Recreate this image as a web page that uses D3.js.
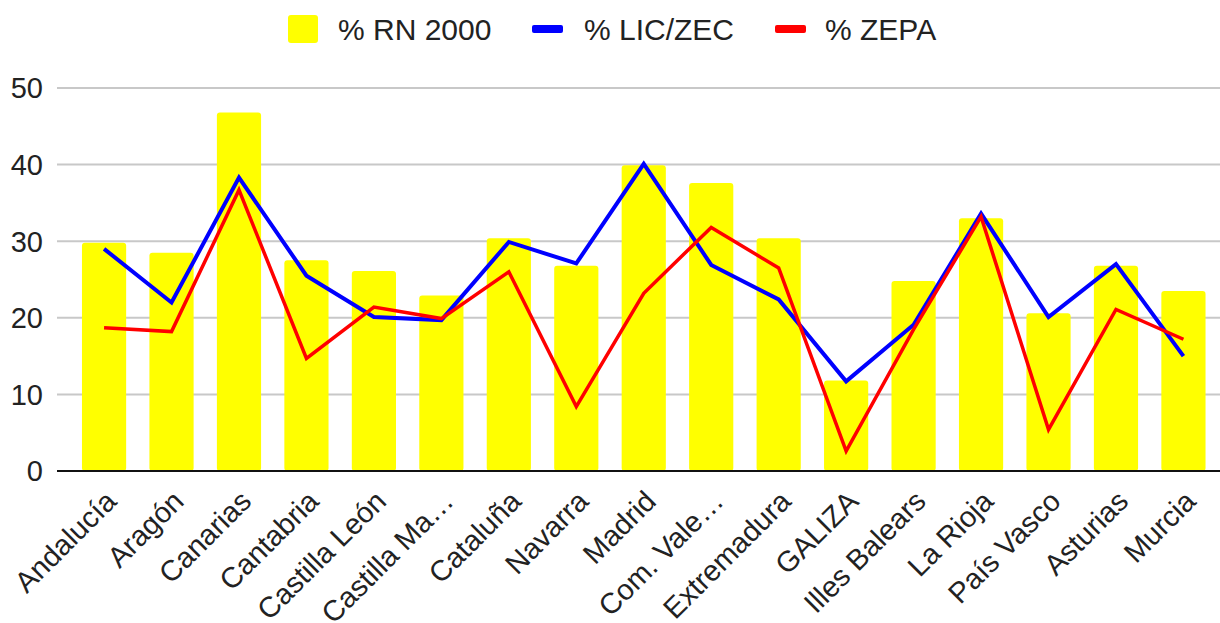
<!DOCTYPE html>
<html><head><meta charset="utf-8">
<script src="https://cdn.jsdelivr.net/npm/d3@7"></script>
<style>
body{margin:0;background:#fff;}
svg{display:block;font-family:Arial,"Liberation Sans",sans-serif;}
</style></head>
<body>
<svg id="c" width="1220" height="623"></svg>
<script>
const categories = ["Andalucía","Aragón","Canarias","Cantabria","Castilla León","Castilla Ma…","Cataluña","Navarra","Madrid","Com. Vale…","Extremadura","GALIZA","Illes Balears","La Rioja","País Vasco","Asturias","Murcia"];
const rn2000 = [29.8,28.5,46.8,27.5,26.1,22.9,30.4,26.8,39.9,37.6,30.4,11.8,24.8,33.0,20.6,26.8,23.5];
const licZec = [29.0,22.0,38.3,25.5,20.1,19.7,29.9,27.1,40.1,26.9,22.4,11.7,19.1,33.6,20.1,27.0,15.0];
const zepa   = [18.7,18.2,36.7,14.7,21.4,19.9,26.0,8.4,23.2,31.8,26.5,2.6,18.5,33.2,5.4,21.1,17.2];
const yTicks = [0,10,20,30,40,50];
const seriesNames = ["% RN 2000","% LIC/ZEC","% ZEPA"];
const colors = {bar:"#ffff00", lic:"#0000ff", zepa:"#ff0000"};

const svg = d3.select("#c");
const x = d3.scaleBand().domain(categories).range([70.5, 1217]).paddingInner(0.345).paddingOuter(0.17);
const y = d3.scaleLinear().domain([0,50]).range([471, 88]);

// gridlines
svg.append("g").selectAll("line").data(yTicks.filter(d=>d>0)).join("line")
  .attr("x1",57).attr("x2",1220).attr("y1",d=>y(d)).attr("y2",d=>y(d))
  .attr("stroke","#c8c8c8").attr("stroke-width",2);

// y tick labels
svg.append("g").selectAll("text").data(yTicks).join("text")
  .attr("x",43).attr("y",d=>y(d)).attr("dy","0.36em").attr("text-anchor","end")
  .attr("font-size",29).attr("fill","#222").text(d=>d);

// bars
svg.append("g").selectAll("rect").data(rn2000).join("rect")
  .attr("x",(d,i)=>x(categories[i])).attr("width",x.bandwidth())
  .attr("y",d=>y(d)).attr("height",d=>y(0)-y(d))
  .attr("rx",3).attr("fill",colors.bar);

// baseline
svg.append("line").attr("x1",57).attr("x2",1220).attr("y1",y(0)).attr("y2",y(0))
  .attr("stroke","#111").attr("stroke-width",2);

const cx = i => x(categories[i]) + x.bandwidth()/2;
const line = d3.line().x((d,i)=>cx(i)).y(d=>y(d));
svg.append("path").datum(licZec).attr("d",line).attr("fill","none")
  .attr("stroke",colors.lic).attr("stroke-width",4).attr("stroke-linejoin","miter");
svg.append("path").datum(zepa).attr("d",line).attr("fill","none")
  .attr("stroke",colors.zepa).attr("stroke-width",3.5).attr("stroke-linejoin","miter");

// x labels
svg.append("g").selectAll("text").data(categories).join("text")
  .attr("transform",(d,i)=>`translate(${cx(i)+14},503) rotate(-45)`)
  .attr("text-anchor","end").attr("font-size",29).attr("fill","#222").text(d=>d);

// legend
const lg = svg.append("g");
lg.append("rect").attr("x",288).attr("y",15).attr("width",30).attr("height",28).attr("rx",3).attr("fill",colors.bar);
lg.append("text").attr("x",338).attr("y",40).attr("font-size",30).attr("fill","#222").text(seriesNames[0]);
lg.append("rect").attr("x",532).attr("y",25).attr("width",31).attr("height",8).attr("rx",2).attr("fill",colors.lic);
lg.append("text").attr("x",584).attr("y",40).attr("font-size",30).attr("fill","#222").text(seriesNames[1]);
lg.append("rect").attr("x",775).attr("y",25).attr("width",31).attr("height",8).attr("rx",2).attr("fill",colors.zepa);
lg.append("text").attr("x",825).attr("y",40).attr("font-size",30).attr("fill","#222").text(seriesNames[2]);
</script>
</body></html>
